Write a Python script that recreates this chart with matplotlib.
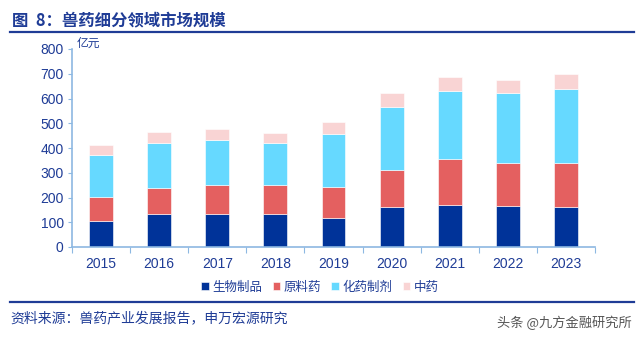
import numpy as np
import matplotlib.pyplot as plt

plt.rcParams['font.family'] = ['Liberation Sans', 'Noto Sans CJK SC', 'DejaVu Sans']

############# Datos ################
years = ['2015', '2016', '2017', '2018', '2019', '2020', '2021', '2022', '2023']
bio = [106, 132, 135, 134, 119, 162, 171, 166, 162]      # 生物制品
raw = [96, 108, 117, 116, 125, 150, 183, 174, 178]       # 原料药
chem = [170, 181, 180, 171, 211, 252, 275, 283, 300]     # 化药制剂
tcm = [42, 45, 43, 39, 51, 59, 59, 50, 59]               # 中药

series = [('生物制品', bio, '#003399'),
          ('原料药', raw, '#E46060'),
          ('化药制剂', chem, '#66D9FF'),
          ('中药', tcm, '#F9D4D4')]

dark = '#1F3C96'
axis_col = '#8DB8E2'

############# Figura ################
fig = plt.figure(figsize=(6.4, 3.41), dpi=100)
ax = fig.add_axes([72/640, 1 - 247/341, 523/640, 198/341])

x = np.arange(len(years))
bottom = np.zeros(len(years))
for name, vals, col in series:
    ax.bar(x, vals, 0.41, bottom=bottom, color=col, label=name,
           edgecolor='white', linewidth=0.4)
    bottom += np.array(vals)

ax.set_xlim(-0.5, len(years) - 0.5)
ax.set_ylim(0, 800)
ax.set_yticks(range(0, 801, 100))
ax.set_xticks(np.arange(len(years) + 1) - 0.5, minor=False)
ax.set_xticklabels([])
ax.set_xticks(x, minor=True)
ax.set_xticklabels(years, minor=True)
ax.tick_params(axis='x', which='minor', length=0, pad=7)
ax.tick_params(axis='x', which='major', length=4, direction='out', color=axis_col)
ax.tick_params(axis='y', length=3, direction='out', color=axis_col, pad=3)
for lab in ax.get_xticklabels(minor=True) + ax.get_yticklabels():
    lab.set_color(dark)
    lab.set_fontsize(10)

for s in ['top', 'right']:
    ax.spines[s].set_visible(False)
for s in ['left', 'bottom']:
    ax.spines[s].set_color(axis_col)
    ax.spines[s].set_linewidth(1.2)

fig.text(77/640, 1 - 47/341, '亿元', color=dark, fontsize=8.5,
         family=['Noto Sans CJK SC'])

# Titulo y lineas
fig.text(12/640, 1 - 20/341, '图  8：兽药细分领域市场规模', color=dark, fontsize=11.8,
         fontweight='bold', va='center', family=['Noto Sans CJK SC'])
fig.add_artist(plt.Line2D([10/640, 634/640], [1 - 32/341, 1 - 32/341],
                          color='#1F3C96', linewidth=1.6))
fig.add_artist(plt.Line2D([10/640, 634/640], [1 - 302/341, 1 - 302/341],
                          color='#1F3C96', linewidth=1.6))

# Leyenda
fig.legend(loc='center', bbox_to_anchor=(0.5, 1 - 287/341), ncol=4,
           frameon=False, handlelength=0.6, handleheight=0.6, handletextpad=0.3,
           columnspacing=0.8, prop={'family': 'Noto Sans CJK SC', 'size': 9},
           labelcolor=dark)

fig.text(10/640, 1 - 318/341, '资料来源：兽药产业发展报告，申万宏源研究', color=dark,
         fontsize=10, va='center', family=['Noto Sans CJK SC'])
fig.text(632/640, 1 - 323/341, '头条 @九方金融研究所', color='#555555',
         fontsize=9.5, va='center', ha='right', family=['Noto Sans CJK SC'])

plt.savefig('out.png', dpi=100)
